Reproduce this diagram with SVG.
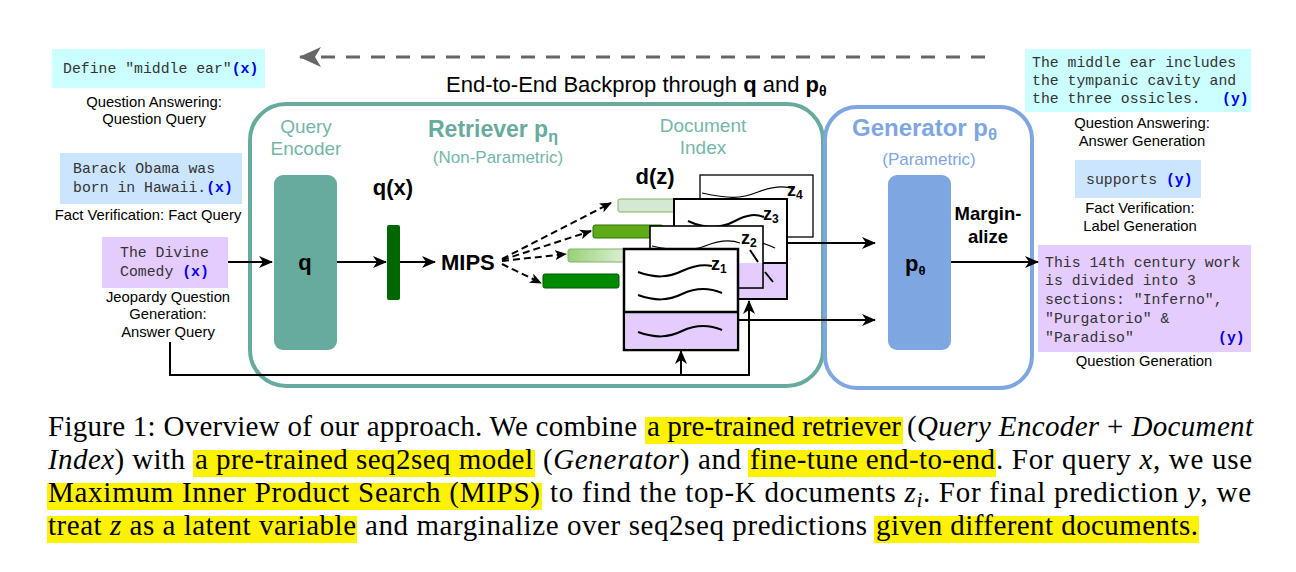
<svg xmlns="http://www.w3.org/2000/svg" width="1296" height="572" viewBox="0 0 1296 572">
<style>
.sans{font-family:"Liberation Sans",Arial,sans-serif;}
.mono{font-family:"Liberation Mono","Courier New",monospace;font-size:14.8px;fill:#333;}
.var{font-weight:bold;fill:#0000ee;}
.lbl{font-family:"Liberation Sans",Arial,sans-serif;font-size:14.8px;fill:#000;text-anchor:middle;}
.cap{font-family:"Liberation Serif","Times New Roman",serif;font-size:29px;fill:#000;}
.it{font-style:italic;}
.hl{fill:#fff200;}
.conn{fill:none;stroke:#000;stroke-width:2;}
.dash{fill:none;stroke:#000;stroke-width:2;stroke-dasharray:7 4;}
.teal{fill:#67ab9f;}
.doc{fill:#fff;stroke:#000;}
.wave{fill:none;stroke:#000;stroke-width:2;}
.wthin{fill:none;stroke:#000;stroke-width:1.2;}
.purple{fill:#e5ccff;}
.zl{font-family:"Liberation Sans",Arial,sans-serif;font-size:18px;font-weight:bold;fill:#000;}
</style>
<defs>
<marker id="ah" markerUnits="userSpaceOnUse" markerWidth="14" markerHeight="12" refX="13" refY="6" orient="auto">
<path d="M0,0 L14,6 L0,12 L4,6 Z" fill="#000"/>
</marker>
<marker id="ahs" markerUnits="userSpaceOnUse" markerWidth="12" markerHeight="10" refX="11" refY="5" orient="auto">
<path d="M0,0 L12,5 L0,10 L3,5 Z" fill="#000"/>
</marker>
<marker id="ahg" markerUnits="userSpaceOnUse" markerWidth="22" markerHeight="20" refX="21" refY="10" orient="auto">
<path d="M0,0 L22,10 L0,20 L6,10 Z" fill="#666"/>
</marker>
<linearGradient id="g3" x1="0" y1="0" x2="1" y2="0">
<stop offset="0" stop-color="#97d077"/>
<stop offset="1" stop-color="#eef7ea"/>
</linearGradient>
</defs>

<!-- Backprop arrow -->
<g id="backprop">
<line x1="985" y1="57" x2="300" y2="57" stroke="#666" stroke-width="3" stroke-dasharray="14 11" marker-end="url(#ahg)"/>
<text class="sans" x="446" y="92" font-size="22">End-to-End Backprop through <tspan font-weight="bold">q</tspan> and <tspan font-weight="bold">p</tspan><tspan font-weight="bold" font-size="14" dy="4">θ</tspan></text>
</g>

<!-- Containers -->
<g id="retriever">
<rect x="250" y="104" width="573" height="282" rx="36" fill="#fff" stroke="#67ab9f" stroke-width="4"/>
<text class="sans" x="428" y="137" font-size="23" font-weight="bold" fill="#67ab9f">Retriever p<tspan font-size="16" dy="5">η</tspan></text>
<text class="sans" x="498" y="163" font-size="17" fill="#74b6aa" text-anchor="middle">(Non-Parametric)</text>
</g>
<g id="generator">
<rect x="825" y="107" width="207" height="281" rx="32" fill="#fff" stroke="#7ea6e0" stroke-width="4"/>
<text class="sans" x="852" y="136" font-size="24" font-weight="bold" fill="#7ea6e0">Generator p<tspan font-size="17" dy="4">θ</tspan></text>
<text class="sans" x="929" y="165" font-size="17" fill="#7ea6e0" text-anchor="middle">(Parametric)</text>
</g>

<!-- Left inputs -->
<g id="in-qa">
<rect x="52" y="49" width="213" height="39" fill="#ccffff"/>
<text class="mono" x="63" y="73">Define "middle ear"<tspan class="var">(x)</tspan></text>
<text class="lbl" x="154" y="107">Question Answering:</text>
<text class="lbl" x="154" y="124">Question Query</text>
</g>
<g id="in-fv">
<rect x="60" y="153" width="182" height="51" fill="#cce5ff"/>
<text class="mono" x="73" y="173">Barack Obama was</text>
<text class="mono" x="73" y="192">born in Hawaii.<tspan class="var">(x)</tspan></text>
<text class="lbl" x="148" y="220">Fact Verification: Fact Query</text>
</g>
<g id="in-jq">
<rect x="102" y="237" width="126" height="51" fill="#e5ccff"/>
<text class="mono" x="120" y="257">The Divine</text>
<text class="mono" x="120" y="276">Comedy <tspan class="var">(x)</tspan></text>
<text class="lbl" x="168" y="302">Jeopardy Question</text>
<text class="lbl" x="168" y="319">Generation:</text>
<text class="lbl" x="168" y="337">Answer Query</text>
</g>

<!-- Query encoder -->
<g id="query-encoder">
<text class="sans" x="306" y="133" font-size="19" fill="#74b6aa" text-anchor="middle">Query</text>
<text class="sans" x="306" y="155" font-size="19" fill="#74b6aa" text-anchor="middle">Encoder</text>
<rect class="teal" x="274" y="175" width="63" height="175" rx="9"/>
<text class="sans" x="305" y="270" font-size="22" font-weight="bold" text-anchor="middle">q</text>
</g>
<g id="qx">
<text class="sans" x="393" y="195" font-size="22" font-weight="bold" text-anchor="middle">q(x)</text>
<rect x="387" y="225" width="13" height="75" rx="2" fill="#006600"/>
</g>
<g id="mips">
<text class="sans" x="441" y="270" font-size="22" font-weight="bold">MIPS</text>
</g>

<!-- Document index -->
<g id="doc-index">
<text class="sans" x="703" y="132" font-size="19" fill="#74b6aa" text-anchor="middle">Document</text>
<text class="sans" x="703" y="154" font-size="19" fill="#74b6aa" text-anchor="middle">Index</text>
<text class="sans" x="655" y="184" font-size="22" font-weight="bold" text-anchor="middle">d(z)</text>
</g>
<g id="bars">
<rect x="618" y="199" width="82" height="13" rx="2" fill="#d5e8d4" stroke="#82b366"/>
<rect x="593" y="225" width="70" height="13" rx="2" fill="#60a917" stroke="#2d7600"/>
<rect x="568" y="249" width="70" height="13" rx="2" fill="url(#g3)" stroke="#82b366"/>
<rect x="543" y="274" width="76" height="14" rx="2" fill="#008a00" stroke="#005700"/>
</g>
<g id="doc-z4">
<rect class="doc" x="700" y="175" width="113" height="62" stroke-width="1.3"/>
<path class="wthin" d="M702,193 C730,199 740,199 758,192 C776,185 786,186 794,189"/>
<text class="zl" x="787" y="196">z<tspan font-size="12" dy="3">4</tspan></text>
</g>
<g id="doc-z3">
<rect class="doc" x="674" y="199" width="113" height="100" stroke-width="2"/>
<rect class="purple" x="675" y="263" width="111" height="35"/>
<line x1="674" y1="263" x2="787" y2="263" stroke="#000" stroke-width="2"/>
<path class="wave" d="M688,221 C705,229 720,229 735,221 C748,214 756,214 764,217"/>
<path class="wthin" d="M752,240 C760,242 768,245 775,248"/>
<path class="wave" d="M765,272 L773,282"/>
<text class="zl" x="763" y="220">z<tspan font-size="12" dy="3">3</tspan></text>
</g>
<g id="doc-z2">
<rect class="doc" x="650" y="226" width="113" height="62" stroke-width="1.6"/>
<rect class="purple" x="651" y="263" width="111" height="24"/>
<path class="wthin" d="M652,246 C670,250 690,252 705,246 C720,240 732,240 740,243"/>
<path class="wave" d="M750,250 L758,262"/>
<text class="zl" x="741" y="244">z<tspan font-size="12" dy="3">2</tspan></text>
</g>
<g id="doc-z1">
<rect class="doc" x="624" y="249" width="114" height="101" stroke-width="2.5"/>
<rect class="purple" x="625.5" y="312" width="111" height="36.5"/>
<line x1="624" y1="312" x2="738" y2="312" stroke="#000" stroke-width="2.5"/>
<path class="wave" d="M638,272 C655,278 668,278 682,271 C695,265 703,264 712,266"/>
<path class="wave" d="M638,295 C655,301 668,301 682,294 C697,287 710,288 722,293"/>
<path class="wave" d="M638,332 C655,338 668,338 682,331 C697,324 710,325 722,330"/>
<text class="zl" x="711" y="270">z<tspan font-size="12" dy="3">1</tspan></text>
</g>

<!-- Generator box -->
<g id="p-theta">
<rect x="888" y="175" width="63" height="175" rx="9" fill="#7ea6e0"/>
<text class="sans" x="905" y="271" font-size="22" font-weight="bold">p<tspan font-size="13" dy="4">θ</tspan></text>
</g>
<g id="marginalize">
<text class="sans" x="988" y="220" font-size="18.5" font-weight="bold" text-anchor="middle">Margin-</text>
<text class="sans" x="988" y="243" font-size="18.5" font-weight="bold" text-anchor="middle">alize</text>
</g>

<!-- Right outputs -->
<g id="out-qa">
<rect x="1025" y="49" width="226" height="63" fill="#ccffff"/>
<text class="mono" x="1032" y="67">The middle ear includes</text>
<text class="mono" x="1032" y="85">the tympanic cavity and</text>
<text class="mono" x="1032" y="103">the three ossicles.</text>
<text class="mono var" x="1222" y="103">(y)</text>
<text class="lbl" x="1142" y="128">Question Answering:</text>
<text class="lbl" x="1142" y="146">Answer Generation</text>
</g>
<g id="out-fv">
<rect x="1075" y="160" width="126" height="38" fill="#cce5ff"/>
<text class="mono" x="1086" y="184">supports <tspan class="var">(y)</tspan></text>
<text class="lbl" x="1140" y="213">Fact Verification:</text>
<text class="lbl" x="1140" y="231">Label Generation</text>
</g>
<g id="out-jq">
<rect x="1038" y="245" width="213" height="107" fill="#e5ccff"/>
<text class="mono" x="1045" y="267">This 14th century work</text>
<text class="mono" x="1045" y="285">is divided into 3</text>
<text class="mono" x="1045" y="304">sections: "Inferno",</text>
<text class="mono" x="1045" y="323">"Purgatorio" &amp;</text>
<text class="mono" x="1045" y="342">"Paradiso"</text>
<text class="mono var" x="1218" y="342">(y)</text>
<text class="lbl" x="1144" y="366">Question Generation</text>
</g>

<!-- Connectors -->
<g id="connectors">
<line class="conn" x1="228" y1="262" x2="272" y2="262" marker-end="url(#ah)"/>
<line class="conn" x1="337" y1="262" x2="386" y2="262" marker-end="url(#ah)"/>
<line class="conn" x1="400" y1="262" x2="435" y2="262" marker-end="url(#ah)"/>
<line class="dash" x1="502" y1="259" x2="611" y2="203" marker-end="url(#ahs)"/>
<line class="dash" x1="502" y1="260" x2="591" y2="231" marker-end="url(#ahs)"/>
<line class="dash" x1="502" y1="261" x2="566" y2="254" marker-end="url(#ahs)"/>
<line class="dash" x1="502" y1="264" x2="541" y2="283" marker-end="url(#ahs)"/>
<line class="conn" x1="787" y1="243" x2="875" y2="243" marker-end="url(#ah)"/>
<line class="conn" x1="738" y1="320" x2="875" y2="320" marker-end="url(#ah)"/>
<line class="conn" x1="951" y1="262" x2="1038" y2="262" marker-end="url(#ah)"/>
<polyline class="conn" points="170,342 170,375 749,375 749,301" marker-end="url(#ah)"/>
<line class="conn" x1="681" y1="375" x2="681" y2="351" marker-end="url(#ah)"/>
</g>

<!-- Caption -->
<g id="caption">
<rect class="hl" x="645" y="417" width="258" height="27"/>
<rect class="hl" x="193" y="450" width="342" height="27"/>
<rect class="hl" x="748" y="450" width="248" height="27"/>
<rect class="hl" x="47" y="483" width="495" height="27"/>
<rect class="hl" x="47" y="516" width="310" height="27"/>
<rect class="hl" x="874" y="516" width="325" height="27"/>
<text class="cap" x="48" y="436" textLength="589" lengthAdjust="spacing">Figure 1: Overview of our approach. We combine</text>
<text class="cap" x="647" y="436" textLength="254" lengthAdjust="spacing">a pre-trained retriever</text>
<text class="cap" x="907" y="436" textLength="346" lengthAdjust="spacing">(<tspan class="it">Query Encoder</tspan> + <tspan class="it">Document</tspan></text>
<text class="cap" x="48" y="469" textLength="137" lengthAdjust="spacing"><tspan class="it">Index</tspan>) with</text>
<text class="cap" x="195" y="469" textLength="338" lengthAdjust="spacing">a pre-trained seq2seq model</text>
<text class="cap" x="543" y="469" textLength="198" lengthAdjust="spacing">(<tspan class="it">Generator</tspan>) and</text>
<text class="cap" x="750" y="469" textLength="245" lengthAdjust="spacing">fine-tune end-to-end</text>
<text class="cap" x="996" y="469" textLength="256" lengthAdjust="spacing">. For query <tspan class="it">x</tspan>, we use</text>
<text class="cap" x="48" y="502" textLength="492" lengthAdjust="spacing">Maximum Inner Product Search (MIPS)</text>
<text class="cap" x="550" y="502" textLength="701" lengthAdjust="spacing">to find the top-K documents <tspan class="it">z</tspan><tspan class="it" font-size="20" dy="5">i</tspan><tspan dy="-5">. For final prediction </tspan><tspan class="it">y</tspan>, we</text>
<text class="cap" x="48" y="535" textLength="308" lengthAdjust="spacing">treat <tspan class="it">z</tspan> as a latent variable</text>
<text class="cap" x="365" y="535" textLength="502" lengthAdjust="spacing">and marginalize over seq2seq predictions</text>
<text class="cap" x="876" y="535" textLength="322" lengthAdjust="spacing">given different documents.</text>
</g>
</svg>
